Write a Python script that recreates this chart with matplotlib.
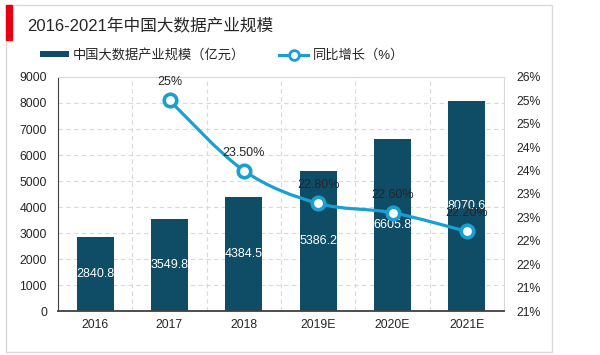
import numpy as np
import matplotlib.pyplot as plt
from matplotlib.lines import Line2D
from matplotlib.patches import Patch, Rectangle, PathPatch
from matplotlib.path import Path
from matplotlib.ticker import FixedLocator, FuncFormatter

plt.rcParams['font.family'] = ['Liberation Sans', 'Noto Sans CJK SC', 'DejaVu Sans']

years = ["2016", "2017", "2018", "2019E", "2020E", "2021E"]
scale = [2840.8, 3549.8, 4384.5, 5386.2, 6605.8, 8070.6]
growth_years = ["2017", "2018", "2019E", "2020E", "2021E"]
growth = [25.0, 23.5, 22.8, 22.6, 22.2]
growth_labels = ["25%", "23.50%", "22.80%", "22.60%", "22.20%"]

bar_color = "#0f4c65"
line_color = "#1a9fd2"
grid_color = "#d9d9d9"

fig = plt.figure(figsize=(6.0, 3.55), dpi=100)
ax = fig.add_axes([58 / 600, 1 - 311 / 355, 446 / 600, 234 / 355])
ax2 = ax.twinx()

x = np.arange(len(years))
bars = ax.bar(x, scale, width=0.5, color=bar_color, zorder=2)
ax.bar_label(bars, labels=[f"{v:.1f}" for v in scale], label_type="center",
             color="white", fontsize=9, zorder=5)

ax.set_xlim(-0.5, len(years) - 0.5)
ax.set_ylim(0, 9000)
ax.set_yticks(range(0, 9001, 1000))
ax.set_xticks(x)
ax.set_xticklabels(years)
ax.tick_params(axis="both", length=0, labelsize=8.8, colors="#262626")
ax.tick_params(axis="y", pad=8)
ax.tick_params(axis="x", pad=6)

# dashed grid: horizontal at value ticks, vertical at category boundaries
ax.yaxis.grid(True, linestyle=(0, (4, 3)), color=grid_color, lw=0.8, zorder=0)
for b in np.arange(0.5, len(years) - 1, 1.0):
    ax.axvline(b, linestyle=(0, (4, 3)), color=grid_color, lw=0.8, zorder=0)

for side in ["top", "right"]:
    ax.spines[side].set_color(grid_color)
ax.spines["left"].set_color("#404040")
ax.spines["bottom"].set_color("#404040")
ax.spines["bottom"].set_linewidth(1.3)

# growth line on secondary axis (smoothed like the original)
gx = np.array([years.index(y) for y in growth_years], dtype=float)
gy = np.array(growth)
pts = np.column_stack([gx, gy])
ext = np.vstack([pts[0], pts, pts[-1]])
verts = [tuple(pts[0])]
codes = [Path.MOVETO]
for i in range(len(pts) - 1):
    p0, p1, p2, p3 = ext[i], ext[i + 1], ext[i + 2], ext[i + 3]
    c1 = p1 + (p2 - p0) / 6
    c2 = p2 - (p3 - p1) / 6
    verts += [tuple(c1), tuple(c2), tuple(p2)]
    codes += [Path.CURVE4] * 3
ax2.add_patch(PathPatch(Path(verts, codes), facecolor="none", edgecolor=line_color,
                        lw=2.3, zorder=3))
ax2.plot(gx, gy, linestyle="none", marker="o", markersize=9, markerfacecolor="white",
         markeredgecolor=line_color, markeredgewidth=2.6, zorder=4)
for xi, yi, lab in zip(gx, gy, growth_labels):
    ax2.annotate(lab, (xi, yi), xytext=(0, 13), textcoords="offset points",
                 ha="center", va="center", fontsize=9, color="#262626", zorder=6)

ax2.set_ylim(20.5, 25.5)
ax2.yaxis.set_major_locator(FixedLocator(np.arange(20.5, 25.51, 0.5)))
ax2.yaxis.set_major_formatter(FuncFormatter(lambda v, p: f"{int(np.floor(v + 0.5))}%"))
ax2.tick_params(axis="y", length=0, labelsize=8.8, colors="#262626", pad=9)
for side in ["top", "right", "left", "bottom"]:
    ax2.spines[side].set_visible(False)

# outer frame, red marker, title
fig.patches.append(Rectangle((6 / 600, 1 - 352 / 355), 546 / 600, 347 / 355,
                             transform=fig.transFigure, fill=False,
                             edgecolor="#d9d9d9", lw=1))
fig.patches.append(Rectangle((6 / 600, 1 - 40 / 355), 6 / 600, 35 / 355,
                             transform=fig.transFigure, color="#e60012"))
fig.text(27 / 600, 1 - 25 / 355, "2016-2021年中国大数据产业规模", fontsize=12,
         ha="left", va="center", color="#262626")

handles = [
    Patch(facecolor=bar_color),
    Line2D([0], [0], color=line_color, lw=2.3, marker="o", markersize=7,
           markerfacecolor="white", markeredgecolor=line_color, markeredgewidth=2),
]
fig.legend(handles, ["中国大数据产业规模（亿元）", "同比增长（%）"], loc="center left",
           bbox_to_anchor=(28 / 600, 1 - 55 / 355), ncol=2, frameon=False,
           fontsize=9.5, handlelength=2.2, handleheight=0.35, columnspacing=2.6,
           handletextpad=0.3, labelcolor="#262626")

fig.savefig("out.png", dpi=100)
